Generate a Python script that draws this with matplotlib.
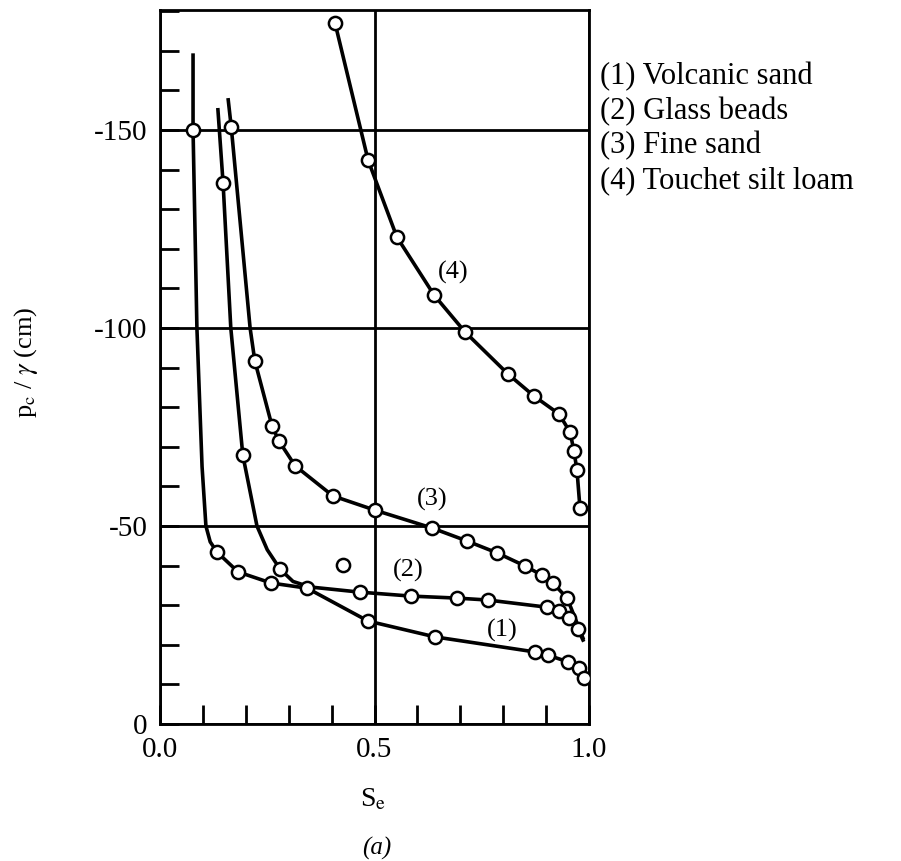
import numpy as np
import matplotlib.pyplot as plt
from matplotlib.ticker import MultipleLocator

plt.rcParams['font.family'] = ['Liberation Serif', 'DejaVu Serif']
plt.rcParams['mathtext.fontset'] = 'stix'

volcanic_x = [0.077, 0.133, 0.182, 0.259, 0.343, 0.485, 0.641, 0.874, 0.904, 0.951, 0.977, 0.988]
volcanic_y = [-150.0, -43.4, -38.4, -35.6, -34.3, -26.0, -22.0, -18.2, -17.4, -15.7, -14.1, -11.6]
# drawn curve (hand-faired line through the points)
volcanic_line_x = [0.077, 0.077, 0.086, 0.098, 0.107, 0.117, 0.133, 0.182, 0.259, 0.343, 0.485, 0.641, 0.874, 0.904, 0.951, 0.977, 0.988, 0.997]
volcanic_line_y = [-168.9, -150.0, -100.0, -65.0, -50.0, -46.0, -43.4, -38.4, -35.6, -34.3, -26.0, -22.0, -18.2, -17.4, -15.7, -14.1, -11.6, -11.0]

beads_x = [0.147, 0.193, 0.280, 0.466, 0.585, 0.692, 0.765, 0.902, 0.930, 0.953, 0.974]
beads_y = [-136.6, -67.9, -39.1, -33.3, -32.3, -31.8, -31.3, -29.5, -28.5, -26.8, -24.0]
beads_line_x = [0.135, 0.147, 0.165, 0.193, 0.226, 0.250, 0.280, 0.310, 0.350, 0.466, 0.585, 0.692, 0.765, 0.902, 0.930, 0.953, 0.974, 0.986]
beads_line_y = [-155.1, -136.6, -100.0, -67.9, -50.0, -44.0, -39.1, -36.0, -34.6, -33.3, -32.3, -31.8, -31.3, -29.5, -28.5, -26.8, -24.0, -21.2]

fine_x = [0.166, 0.221, 0.261, 0.277, 0.315, 0.403, 0.501, 0.634, 0.716, 0.786, 0.851, 0.890, 0.916, 0.949]
fine_y = [-150.8, -91.7, -75.3, -71.5, -65.2, -57.6, -54.0, -49.5, -46.2, -43.2, -39.9, -37.6, -35.6, -31.8]
fine_line_x = [0.159, 0.166, 0.210, 0.221, 0.261, 0.277, 0.315, 0.403, 0.501, 0.634, 0.716, 0.786, 0.851, 0.890, 0.916, 0.949, 0.986]
fine_line_y = [-157.6, -150.8, -100.0, -91.7, -75.3, -71.5, -65.2, -57.6, -54.0, -49.5, -46.2, -43.2, -39.9, -37.6, -35.6, -31.8, -21.7]

silt_x = [0.408, 0.485, 0.552, 0.639, 0.711, 0.811, 0.872, 0.930, 0.956, 0.965, 0.972, 0.979]
silt_y = [-177.0, -142.4, -123.0, -108.3, -99.0, -88.4, -82.8, -78.3, -73.7, -68.9, -64.1, -54.5]

stray_x = [0.427]
stray_y = [-40.2]

legend_lines = ['(1) Volcanic sand', '(2) Glass beads', '(3) Fine sand', '(4) Touchet silt loam']
curve_tags = ['(1)', '(2)', '(3)', '(4)']
tag_x = [0.797, 0.578, 0.634, 0.683]
tag_y = [-23.7, -38.9, -56.6, -114.1]

fig = plt.figure(figsize=(9.01, 8.61), dpi=100)
ax = fig.add_axes([0.1776, 0.1591, 0.4761, 0.8293])

mk = dict(marker='o', ms=9.5, mfc='white', mec='black', mew=1.8, ls='none', zorder=4)
ln = dict(color='black', lw=2.6, zorder=3)

ax.plot(volcanic_line_x, volcanic_line_y, **ln)
ax.plot(beads_line_x, beads_line_y, **ln)
ax.plot(fine_line_x, fine_line_y, **ln)
ax.plot(silt_x, silt_y, **ln)

ax.plot(volcanic_x, volcanic_y, **mk)
ax.plot(beads_x, beads_y, **mk)
ax.plot(fine_x, fine_y, **mk)
ax.plot(silt_x, silt_y, **mk)
ax.plot(stray_x, stray_y, **mk)

for t, x, y in zip(curve_tags, tag_x, tag_y):
    ax.text(x, y, t, fontsize=19, ha='center', va='center', zorder=5)

ax.set_xlim(0, 1.0)
ax.set_ylim(0, -180.3)

ax.set_xticks([0, 0.5, 1.0])
ax.set_xticklabels(['0.0', '0.5', '1.0'])
ax.set_yticks([0, -50, -100, -150])
ax.set_yticklabels(['0', '-50', '-100', '-150'])
ax.xaxis.set_minor_locator(MultipleLocator(0.1))
ax.yaxis.set_minor_locator(MultipleLocator(10))
ax.tick_params(which='both', direction='in', length=14, width=2, top=False, right=False,
               labelsize=21)
ax.tick_params(axis='x', which='major', pad=9)
ax.tick_params(axis='y', which='major', pad=9)
ax.grid(True, which='major', color='black', lw=2)
for s in ax.spines.values():
    s.set_linewidth(2)

ax.set_ylabel(r'p$_\mathrm{c}$ / $\gamma$ (cm)', fontsize=19)
ax.yaxis.set_label_coords(-0.28, 0.507)

fig.text(373 / 901, 1 - 800 / 861, r'S$_\mathrm{e}$', fontsize=20, ha='center', va='center')
fig.text(377 / 901, 1 - 848 / 861, '(a)', fontsize=18, style='italic', ha='center', va='center')

for i, s in enumerate(legend_lines):
    fig.text(600 / 901, 1 - (77 + 34.5 * i) / 861, s, fontsize=22, ha='left', va='center')

fig.savefig('out.png', dpi=100)
